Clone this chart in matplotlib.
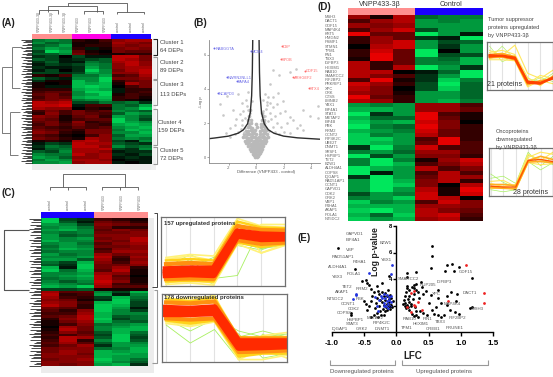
import numpy as np
import matplotlib
matplotlib.use("Agg")
import matplotlib.pyplot as plt
from matplotlib.colors import LinearSegmentedColormap
from matplotlib.patches import Rectangle

plt.rcParams['font.family'] = ['Liberation Sans', 'DejaVu Sans']

W, H = 553, 377

# heatmap values, -9 = bright green, 9 = bright red
heat_a = [
    [-5, -6, -5, 2, 1, 3, 6, 7, 7],
    [-6, -4, -5, 1, 1, 2, 7, 6, 5],
    [-4, -5, -7, 1, 2, 2, 6, 5, 6],
    [-5, -7, -6, 2, -1, 1, 5, 6, 5],
    [-3, -9, -7, 4, 1, 0, 5, 4, 4],
    [-4, -4, -6, 5, 2, 1, 1, 2, 2],
    [-2, -3, 0, -3, -1, -1, 8, 8, 5],
    [-4, -3, -1, -2, -3, -4, 8, 7, 5],
    [-2, -4, -1, -1, -5, -4, 7, 8, 6],
    [-1, -3, -2, -3, -6, -5, 6, 8, 6],
    [-2, -1, -1, -2, -7, -5, 6, 7, 7],
    [-1, -3, 0, -2, -9, -6, 5, 7, 8],
    [-3, -3, -2, -3, -7, -6, 6, 6, 8],
    [2, 1, 3, -5, -5, -7, 3, 4, 7],
    [-4, -2, -1, -6, -6, -9, 5, 5, 6],
    [-2, 1, 1, -8, -6, -9, 2, 4, 5],
    [1, 0, 1, -8, -7, -8, 1, 7, 5],
    [1, -1, -1, -8, -9, -8, 0, 3, 5],
    [2, 2, 2, -7, -8, -7, -1, 2, 2],
    [3, 4, 4, -6, -9, -9, -1, 2, 3],
    [4, 5, 3, -6, -7, -9, 1, 3, 2],
    [3, 5, 4, -7, -8, -8, 2, 3, 1],
    [4, 5, 6, -5, -6, -7, 2, 1, 0],
    [8, 7, 8, -3, -3, -5, -4, -5, -2],
    [8, 8, 9, -1, 3, 3, -5, -4, -7],
    [7, 6, 6, 0, 2, 1, -5, -6, -9],
    [3, 5, 3, 5, 3, 4, -6, -5, -4],
    [2, 6, 3, 5, 4, 3, -4, -7, -6],
    [6, 5, 1, 4, 5, 2, -7, -6, -4],
    [5, 4, 1, 3, 4, 4, -9, -6, -3],
    [4, 5, 2, 6, 2, 3, -9, -7, -6],
    [3, 5, 3, 5, 3, 2, -7, -8, -7],
    [4, 3, 2, 4, 3, 4, -6, -7, -8],
    [5, 4, 3, 2, 5, 5, -5, -8, -7],
    [6, 5, 2, 1, 5, 5, -6, -6, -8],
    [4, 3, 1, 0, 3, 6, -4, -7, -7],
    [5, 4, 2, 1, 7, 6, -5, -6, -5],
    [1, 2, 1, 7, 8, 6, -3, -1, -6],
    [-1, -3, -2, 8, 7, 7, -4, -3, -2],
    [-2, -5, -4, 8, 8, 6, -6, -4, -5],
    [-1, -4, -5, 7, 7, 8, -3, -2, -6],
    [-4, -3, -6, 7, 7, 6, -1, -2, -2],
    [-6, -5, -5, 8, 6, 7, -2, -1, -3],
    [-7, -6, -4, 6, 6, 7, -1, -2, -1],
    [-5, -7, -6, 7, 7, 6, 0, -1, -1],
    [-6, -6, -7, 6, 7, 7, -1, 0, -1],
]

heat_c = [
    [-9, -3, -2, 3, 2, 1],
    [-9, -4, -1, 5, 4, 2],
    [-7, -6, -3, 6, 5, 4],
    [-6, -7, -5, 5, 2, 2],
    [-7, -8, -6, 4, 6, 5],
    [-6, -5, -6, 5, 5, 6],
    [-7, -4, -5, 6, 6, 6],
    [-7, -6, -7, 5, 6, 8],
    [-8, -6, -6, 6, 5, 8],
    [-6, -7, -5, 4, 6, 7],
    [-5, -7, -6, 5, 5, 6],
    [-6, -8, -7, 3, 6, 6],
    [-5, -6, -6, 4, 7, 7],
    [-7, -5, -6, 7, 5, 6],
    [-6, -6, -7, 8, 3, 7],
    [-7, -7, -4, 7, 2, 6],
    [-5, -3, -8, 6, 3, 7],
    [-4, -2, -9, 5, 5, 6],
    [-8, -1, -9, 5, 7, 2],
    [-9, -5, -8, 4, 8, 1],
    [-6, -6, -7, 7, 6, 1],
    [-6, -7, -8, 8, 4, 0],
    [-5, -6, -7, 8, 5, 1],
    [-6, -4, -6, 9, 6, 1],
    [-7, -6, -5, 8, 3, 2],
    [-8, -7, -9, 7, 4, 4],
    [-3, -3, -4, 1, 1, 1],
    [7, 4, 4, -6, -3, -8],
    [8, 2, 3, -7, -1, -6],
    [7, 3, 2, -3, -8, -5],
    [6, 5, 1, -2, -9, -4],
    [7, 6, 3, -8, -9, -3],
    [8, 6, 2, -9, -8, -3],
    [5, 4, 2, -9, -7, -1],
    [4, 2, 6, -9, -6, -3],
    [3, 3, 7, -8, -6, -6],
    [4, 5, 8, -8, -4, -5],
    [2, 6, 8, -9, -3, -5],
    [1, 5, 7, -8, -5, -4],
    [1, 3, 6, -5, -6, -7],
    [0, 7, 5, -6, -7, -8],
    [1, 8, 5, -6, -8, -8],
    [2, 6, 4, -4, -8, -5],
    [3, 3, 5, -3, -9, -4],
    [2, 8, 7, -4, -9, -3],
    [3, 8, 2, -6, -9, -4],
    [4, 7, 4, -4, -7, -6],
    [3, 5, 7, -2, -7, -7],
    [5, 6, 6, -5, -6, -8],
    [5, 7, 6, -8, -7, -8],
    [6, 7, 5, -8, -8, -7],
    [6, 6, 6, -8, -7, -7],
    [5, 6, 7, -9, -7, -5],
    [6, 6, 6, -8, -6, -4],
    [6, 5, 6, -7, -8, -2],
]

heat_d = [
    [6, 1, 7, -4, -5, -5],
    [3, 6, 7, -6, -5, -6],
    [6, 5, 6, -6, -6, -6],
    [3, 6, 8, -3, -6, -6],
    [9, 4, 4, -9, -6, -1],
    [2, 6, 4, -2, -1, -9],
    [2, 6, 8, -6, -3, -4],
    [0, 7, 8, -6, -2, -6],
    [2, 8, 4, -9, 0, -6],
    [2, 9, 4, -9, -3, -3],
    [1, 9, 4, -5, -4, -7],
    [7, 2, 4, -5, -5, -7],
    [7, 2, 7, -9, -6, -2],
    [7, 7, 0, -1, -4, -9],
    [7, 5, 3, -2, -6, -9],
    [3, 9, 1, -2, -8, -5],
    [8, 6, 2, -3, -9, -4],
    [7, 5, 0, -3, -8, -4],
    [6, 5, 1, -6, -6, -4],
    [9, 4, 2, -6, -6, -4],
    [7, 6, 2, -6, -7, -5],
    [-6, -5, -6, 6, 6, 3],
    [-7, -7, -6, 6, 6, 4],
    [-9, -2, -6, 9, 3, 1],
    [-7, -4, -4, 9, 4, 1],
    [-8, -6, -7, 8, 5, 0],
    [-9, -5, -4, 9, 5, 2],
    [-7, -6, -5, 8, 4, 2],
    [-8, -5, -6, 7, 4, 2],
    [-8, -8, -6, 3, 9, 2],
    [-8, -7, -6, 4, 9, 3],
    [-2, -9, -5, 8, 3, 3],
    [-5, -6, -4, 6, 6, 3],
    [-9, -3, -6, 5, 5, 2],
    [-5, -9, -5, 1, 6, 8],
    [-5, -9, -7, 3, 5, 7],
    [-9, -7, -6, 7, 3, 5],
    [-9, -1, -6, 3, 7, 3],
    [-2, -9, -6, 4, 7, 6],
    [-6, -9, -7, 5, 7, 2],
    [-6, -9, -8, 5, 0, 7],
    [-6, -9, -6, 7, 1, 9],
    [-3, -6, -5, 8, 1, 8],
    [-5, -6, -8, 8, 7, 0],
    [-8, -5, -6, 3, 8, 5],
    [-7, -7, -7, 6, 6, 5],
    [-8, -9, -7, 7, 5, 4],
    [-7, -4, -8, 7, 8, 3],
    [-8, -6, -7, 6, 7, 2],
]

genes_d = ["MSH3", "DACT1", "GDF15", "MAP4K4", "KRT5", "HMGN2", "PSMF1", "STMN1", "TPM1", "FN1",
           "TBX3", "IGFBP3", "HEXIM1", "RAB10", "SMARCC2", "IRF2BP2", "PRKRIP1", "XPC", "CRK", "CTSS",
           "LMNB2", "YBX1", "EIF4A1", "STAT3", "METAP2", "EIF4B", "PBK", "RRM2", "CCNT2", "PIP4K2C",
           "UBE2T", "DNMT1", "SRSF1", "HSPBP1", "TET2", "BZW1", "ALDH4A1", "COPS8", "IQGAP1", "RAD51AP1",
           "CCNT1", "GAPVD1", "CDK2", "GRK2", "VBP1", "P4HA1", "AKAP1", "POLA1", "NT5DC2"]

# volcano (B)
grey_core = [
    (-.08, .02), (.05, .03), (.12, .08), (-.15, .1), (0, .1), (-.25, .2), (-.1, .2), (.03, .18), (.18, .2), (.3, .22),
    (-.35, .35), (-.2, .33), (-.05, .3), (.1, .34), (.24, .35), (.38, .33), (-.45, .48), (-.3, .5), (-.15, .47),
    (0, .45), (.15, .5), (.3, .47), (.44, .5), (-.55, .65), (-.4, .62), (-.25, .66), (-.1, .62), (.05, .65), (.2, .62),
    (.35, .66), (.5, .63), (-.7, .8), (-.55, .82), (-.4, .78), (-.25, .82), (-.1, .8), (.05, .82), (.2, .78), (.35, .82),
    (.5, .8), (.65, .82), (-.8, .97), (-.65, 1), (-.5, .95), (-.35, 1), (-.18, .96), (0, 1), (.15, .96), (.3, 1), (.45, .95),
    (.6, 1), (.75, .97), (-.95, 1.15), (-.75, 1.18), (-.55, 1.13), (-.4, 1.2), (-.22, 1.15), (-.05, 1.2), (.1, 1.14),
    (.25, 1.2), (.4, 1.15), (.55, 1.18), (.7, 1.14), (.9, 1.18), (-.85, 1.35), (-.65, 1.33), (-.48, 1.38), (-.32, 1.35),
    (-.12, 1.4), (.03, 1.34), (.3, 1.38), (.48, 1.34), (.65, 1.4), (.82, 1.33), (-.75, 1.55), (-.55, 1.53), (-.4, 1.6),
    (-.28, 1.52), (-.05, 1.6), (.04, 1.75), (.32, 1.55), (.45, 1.6), (.6, 1.52), (.75, 1.58), (-.62, 1.75), (-.42, 1.78),
    (-.3, 1.72), (.35, 1.75), (.5, 1.8), (.68, 1.72), (-.02, 1.95), (-.5, 1.95), (-.38, 2), (.38, 1.95), (.55, 2),
    (-.6, 2.15), (-.4, 2.2), (.42, 2.15), (.6, 2.2), (-.5, 2.4), (.5, 2.4), (.45, 2.6), (-.42, 2.75),
]
grey_outer = [
    (2.47, 5), (2.9, 5.15), (1.26, 5.1), (1.7, 4.8), (1, 4.3), (4.5, 3), (4.48, 2.3), (3.44, 2.75), (3.9, 2.4),
    (1.99, 3.3), (1.6, 3.75), (1.26, 3.55), (.9, 3.55), (.78, 3.25), (1.26, 2.95), (1.75, 2.57), (2.47, 2.38),
    (2.23, 2), (2.96, 1.7), (3.44, 1.6), (2.47, 1.4), (2, 1.5), (.53, 3.35), (.48, 2.7), (1, 2.6), (1.4, 2.4),
    (.9, 2.1), (.7, 2.85), (.65, 2.4), (1.1, 2.25), (1.5, 2), (1.8, 1.75), (1.2, 1.75), (.95, 1.55), (1.35, 1.5),
    (1.7, 1.35), (.8, 3.05), (1.05, 3.2), (1.5, 3.1), (2.1, 2.7), (2.7, 2.2), (3.2, 1.9), (.62, 3.7),
    (-2.4, 2.45), (-1.7, 2.75), (-1.05, 3.15), (-.7, 3.35), (-.55, 2.75), (-1.2, 2.55), (-1.55, 1.9), (-1.9, 1.7),
    (-.8, 2.3), (-.3, 3.3), (-.45, 2.6), (-1.9, 1.2), (-1.3, 1.5), (-1.05, 1.9), (-.8, 1.7), (-.5, 2.1),
    (-1, 2.2), (-1.45, 2.25), (-.95, 2.7), (-.65, 3), (-1.1, 1.65), (-1.5, 1.35), (-2.2, 1.4), (-.9, 1.45),
    (-.6, 3.8), (-2.1, 3.6), (-1.3, 3.7), (-2.6, 3.1),
]
volcano_curve_x = [.22, .25, .3, .4, .6, .9, 1.3, 2, 3, 4.6]
volcano_curve_y = [6.9, 5, 3.6, 2.6, 1.95, 1.6, 1.4, 1.23, 1.13, 1.05]
left_curve_x = [-.24, -.27, -.32, -.42, -.62, -.92, -1.3, -2, -3, -3.42]
left_curve_y = [6.9, 5, 3.6, 2.6, 1.95, 1.6, 1.4, 1.23, 1.12, 1.08]
red_names = ["DSP", "SPOB", "GDF15", "ARHGEF2", "STX4"]
red_x = [1.87, 1.82, 3.56, 2.7, 3.83]
red_y = [6.5, 5.76, 5.08, 4.7, 4.05]
blue_names = ["RABGGTA", "MCM4", "NWRN2NLL1", "PAPA4", "NCAPD3"]
blue_x = [-3.05, -.39, -2.13, -1.4, -2.8]
blue_y = [6.43, 6.25, 4.72, 4.45, 3.78]

# scatter (E)
e_black = [
    (.56, 6.5), (.55, 5.75), (.3, 4.55), (.53, 4.85), (.16, 4.47), (.16, 4.18), (.31, 3.6), (.38, 3.8), (.27, 3.55),
    (.76, 4.63), (.79, 5.05), (.86, 5.13), (.97, 4.87), (.9, 4.63), (1.17, 4.05), (.85, 3), (.94, 2.87), (.78, 2.72),
    (.92, 2.35), (.79, 2.05), (1.15, 1.8), (1.18, 1.88), (.69, 2.17), (.65, 3.17), (.64, 2.55), (.53, 2.8), (.51, 2.17),
    (.61, 1.92), (.59, 1.35), (.64, 1.25), (.7, 1.1), (.74, 1.3), (.84, 1.67), (.91, 1.5), (.97, 1.35), (.42, 1.4),
    (.47, 1.25), (.36, 1.55), (.55, 1.65), (.46, 3.1), (.42, 2.85), (.4, 3.4),
    (.12, 2.4), (.13, 2.2), (.14, 2), (.15, 1.8), (.13, 2.7), (.15, 3.05), (.17, 3.3), (.16, 3.5), (.2, 3.2), (.2, 2.7),
    (.18, 2.5), (.2, 2.25), (.22, 1.95), (.19, 1.65), (.24, 1.35), (.27, 1.2), (.3, 1.3), (.24, 3.4), (.27, 3.3),
    (.28, 2.85), (.3, 3.15), (.33, 3), (.35, 2.55), (.26, 2.5), (.29, 1.85), (.31, 1.6), (.23, 2.1), (.16, 2.05),
    (.11, 2.15), (.18, 1.9), (.33, 1.15),
    (-.9, 6.35), (-.65, 4.72), (-.53, 3.85), (-.47, 3.95), (-.45, 3.72), (-.42, 3.55), (-.4, 3.25), (-.3, 3.45),
    (-.22, 3.7), (-.12, 4.2), (-.71, 1.3), (-.7, 1.45), (-.45, 1.65), (-.42, 1.95), (-.47, 2.1), (-.4, 2.35),
    (-.38, 2.7), (-.35, 3), (-.32, 2.2), (-.33, 1.8), (-.3, 2.55), (-.3, 1.45), (-.28, 3.1), (-.27, 2.85), (-.27, 2),
    (-.26, 1.6), (-.25, 2.45), (-.24, 1.3), (-.22, 3.05), (-.22, 2.3), (-.21, 1.75), (-.2, 2.7), (-.2, 2.05), (-.18, 1.55),
    (-.18, 2.95), (-.17, 2.4), (-.16, 1.85), (-.15, 2.75), (-.15, 2.15), (-.14, 1.65), (-.13, 3.2), (-.12, 2.5), (-.12, 1.95),
    (-.11, 2.3), (-.1, 1.75), (-.1, 2.8), (-.09, 2.05), (-.08, 2.6), (-.07, 1.9), (-.06, 2.35), (-.35, 1.25), (-.4, 1.1),
    (-.28, 1.1), (-.19, 1.25), (-.5, 2.35),
]
e_blue = [
    (-.42, 4.42), (-.07, 5.05), (-.09, 4.35), (-.63, 2.88), (-.62, 2.8), (-.68, 2.5), (-.33, 2.65), (-.27, 2.4),
    (-.24, 2.75), (-.22, 2.55), (-.2, 2.2), (-.19, 2.85), (-.17, 2.6), (-.16, 2), (-.15, 2.35), (-.14, 2.8), (-.13, 1.8),
    (-.13, 2.15), (-.12, 2.65), (-.11, 2.45), (-.1, 2), (-.09, 2.25), (-.08, 2.75), (-.3, 1.95), (-.28, 1.55), (-.2, 1.95),
]
e_red = [
    (1.08, 5.05), (1.36, 2.92), (1.36, 2.22), (.8, 2.35), (.27, 3.1), (.22, 2.97), (.27, 2.05), (.33, 2.25), (.39, 1.67),
    (.17, 1.85), (.22, 1.5), (.29, 1.95),
]
e_labels = ["GAPVD1", "EIF4A1", "VBP", "RAD51AP1", "P4HA1", "ALDH4A1", "POLA1", "YBX3", "TET2", "RRM2", "AKAP1", "PBK",
            "NT5DC2", "CCNT1", "CDK2", "COPS8", "HSPBP1", "STAT3", "IQGAP1", "GRK2", "DNMT1", "PIP4K2C", "METAP2", "BZW1",
            "YBX1", "SMARCC2", "NUP205", "IGFBP3", "XPC", "GDF15", "DACT1", "MAP4K4", "MSH3", "IRF2BP2", "TBX3", "PRUNE1",
            "CREB1", "HEXIM1", "PIN1", "RAB10", "TPM1"]
e_label_x = [163, 158, 151, 130, 180, 113, 160, 113, 140, 186, 127, 180, 105, 144, 162, 133, 165, 155, 120, 185, 248, 245,
             225, 256, 258, 325, 385, 433, 410, 498, 510, 458, 533, 473, 421, 463, 398, 363, 382, 328, 321]
e_label_y = [28, 46, 75, 95, 112, 125, 146, 156, 185, 192, 200, 222, 222, 238, 253, 265, 285, 298, 312, 312, 312, 295,
             280, 55, 105, 163, 180, 170, 207, 142, 205, 238, 252, 280, 290, 309, 312, 298, 283, 282, 308]

# profile plots
up_green = [[-.9, -.25, -.9, -.8, .85, .6], [-.55, -.1, -.45, .35, .1, .2], [-1.1, -.7, -1.1, .3, .1, .3], [-.4, -.5, -.2, .2, .05, .35]]
up_pale = [[-.2, -.1, -.15, 1.1, .85, .8], [-1.1, -1.05, -1.12, .25, -.05, .2], [-.25, -.15, -.3, .2, .9, .9], [-1.05, -.95, -1.05, 1, -.05, .25]]
up_yellow = [[-.3, -.25, -.3, 1, .8, .78], [-1, -.98, -1, .3, .15, .25], [-.4, -.35, -.4, .9, .25, .3], [-.95, -.9, -.95, .45, .75, .7]]
up_orange = [[-.42, -.38, -.42, .85, .72, .7], [-.92, -.9, -.92, .38, .25, .3]]
up_red = [[-.7, -.65, -.68, .62, .5, .5], [-.6, -.57, -.58, .66, .56, .54], [-.78, -.75, -.78, .54, .42, .44]]
down_green = [[.3, -.1, .3, -.2, -1, -.85], [.4, .05, .35, -.1, -.3, -.2], [.1, -.5, -.05, -1.05, -.2, -.75], [.25, .3, .35, -.3, -.1, -.3]]
down_pale = [[1.05, .8, 1.1, -.6, -.25, -.15], [.15, .05, .2, -1.05, -1.05, -.9], [.95, 1, 1.05, -.3, -.3, -.45], [.2, .1, .25, -1.05, -.7, -1]]
down_yellow = [[.95, .9, 1, -.4, -.3, -.3], [.25, .15, .25, -.95, -.85, -.85], [.85, .8, .9, -.9, -.8, -.75], [.3, .2, .3, -.3, -.35, -.35]]
down_orange = [[.85, .82, .88, -.35, -.35, -.35], [.32, .28, .32, -.8, -.78, -.75]]
down_red = [[.57, .55, .6, -.55, -.55, -.52], [.66, .63, .68, -.45, -.45, -.45], [.47, .47, .5, -.65, -.63, -.6]]
sup_green = [[.95, .2, .5, -.6, -.75, -.35], [.35, .95, .3, -.85, -.55, -.75]]
sup_yellow = [[.75, .5, 1, -.35, -.6, -.2], [.3, .3, .25, -1, -.7, -.85], [.65, .75, .55, -.55, -.95, -.45], [.35, .55, .35, -.85, -.45, -.6]]
sup_orange = [[.55, .6, .45, -.72, -.85, -.5], [.4, .42, .3, -.9, -.7, -.6]]
sup_red = [[.45, .5, .4, -.8, -.85, -.55], [.52, .48, .35, -.75, -.8, -.6]]
onc_green = [[-.1, -.5, -.75, .8, .6, .35], [-.85, -.95, -.85, .5, .1, .45], [-.3, -.2, -.55, .95, .3, .75]]
onc_yellow = [[-.45, -.4, -.7, .7, .95, .85], [-.8, -.75, -.85, .45, .35, .4], [-.55, -.7, -.6, .85, .55, .95]]
onc_orange = [[-.6, -.6, -.65, .55, .75, .6], [-.75, -.78, -.8, .48, .5, .45]]
onc_red = [[-.68, -.72, -.72, .55, .6, .5]]

left_group = [("#ff8f8f", 32, 72), ("#ff00e6", 72, 111), ("#1a00ff", 111, 151)]
cluster_names = ["Cluster 1", "Cluster 2", "Cluster 3", "Cluster 4", "Cluster 5"]
cluster_counts = ["64 DEPs", "89 DEPs", "113 DEPs", "159 DEPs", "72 DEPs"]

cmap = LinearSegmentedColormap.from_list("rg", ["#00ff66", "#000000", "#ff0000"])
fig = plt.figure(figsize=(W / 100, H / 100), dpi=100)


def box(x0, y0, x1, y1, **kw):
    return fig.add_axes([x0 / W, 1 - y1 / H, (x1 - x0) / W, (y1 - y0) / H], **kw)


def heat(rows, x0, y0, x1, y1, vmax):
    ax = box(x0, y0, x1, y1, zorder=2)
    ax.imshow(np.array(rows), cmap=cmap, vmin=-vmax, vmax=vmax, aspect='auto', interpolation='nearest')
    ax.axis('off')


def profile(x0, y0, x1, y1, xlim, ylim, groups):
    ax = box(x0, y0, x1, y1, zorder=2)
    for i in range(6):
        ax.axvline(i, color='#e2e2e2', lw=0.8)
    for lines, col, lw in groups:
        for vals in lines:
            ax.plot(range(6), vals, color=col, lw=lw, solid_joinstyle='round')
    ax.set_xlim(*xlim)
    ax.set_ylim(*ylim)
    ax.set_xticks([])
    ax.set_yticks([])
    for s in ax.spines.values():
        s.set_color('#707070')
        s.set_linewidth(0.9)


# background shades
bg = box(0, 0, W, H, zorder=0)
bg.set_xlim(0, W)
bg.set_ylim(H, 0)
bg.axis('off')
bg.add_patch(Rectangle((32, 164), 124, 6, color='#ececec', lw=0))
bg.add_patch(Rectangle((151, 39), 5, 131, color='#f0f0f0', lw=0))
bg.add_patch(Rectangle((41, 366), 113, 7, color='#ececec', lw=0))
bg.add_patch(Rectangle((148, 218), 6, 155, color='#ececec', lw=0))

heat(heat_a, 32, 39, 151, 164, 11)
heat(heat_c, 41, 218, 148, 366, 11.5)
heat(heat_d, 348, 15, 483, 221, 10)

# volcano
axb = box(209, 40, 320, 163, zorder=2)
core = np.array(grey_core)
outer = np.array(grey_outer)
axb.scatter(core[:, 0], core[:, 1], s=7, color='#b9b9b9', linewidths=0)
axb.scatter(outer[:, 0], outer[:, 1], s=3.5, color='#c8c8c8', linewidths=0)
axb.plot(volcano_curve_x, volcano_curve_y, color='#2e2e2e', lw=1)
axb.plot(left_curve_x, left_curve_y, color='#2e2e2e', lw=1)
axb.scatter(red_x, red_y, s=2, color='#ff6a6a', linewidths=0)
axb.scatter(blue_x, blue_y, s=2, color='#6a6ae8', linewidths=0)
for n, x, y in zip(red_names, red_x, red_y):
    axb.text(x + .08, y - .05, n, color='#ff6a6a', fontsize=2.8, va='center')
for n, x, y in zip(blue_names, blue_x, blue_y):
    axb.text(x + .08, y - .05, n, color='#6a6ae8', fontsize=2.8, va='center')
axb.set_xlim(-3.42, 4.65)
axb.set_ylim(-.35, 6.88)
axb.set_xticks([-2, 0, 2, 4])
axb.set_xticklabels(["-2", "0", "2", "4"])
axb.set_yticks([0, 2, 4, 6])
axb.tick_params(labelsize=2.8, length=1.2, width=.4, pad=1, colors='#666666')
axb.spines['top'].set_visible(False)
axb.spines['right'].set_visible(False)
axb.spines['left'].set_color('#888888')
axb.spines['bottom'].set_color('#888888')
axb.spines['left'].set_linewidth(.6)
axb.spines['bottom'].set_linewidth(.6)
axb.patch.set_alpha(0)

# scatter E
axe = box(332, 226, 493, 332, zorder=2)
for pts, col in [(e_black, 'black'), (e_blue, '#2233dd'), (e_red, '#ee2222')]:
    p = np.array(pts)
    axe.scatter(p[:, 0], p[:, 1], s=4, color=col, linewidths=0, clip_on=False)
axe.set_xlim(-1, 1.5)
axe.set_ylim(0, 8)
# set_position resets the ticks, so it has to come before the tick labels
axe.spines['left'].set_position(('data', 0))
axe.set_xticks([-1, -.5, 0, .5, 1, 1.5])
axe.set_xticklabels(["-1.0", "-0.5", "0.0", "0.5", "1.0", "1.5"], fontweight='bold', fontsize=5.8)
axe.set_yticks([2, 4, 6, 8])
axe.set_yticklabels(["2", "4", "6", "8"], fontweight='bold', fontsize=4.2)
axe.tick_params(axis='x', length=3, width=1, pad=3)
axe.tick_params(axis='y', length=2.5, width=1, pad=.5)
axe.spines['top'].set_visible(False)
axe.spines['right'].set_visible(False)
axe.spines['left'].set_linewidth(1)
axe.spines['bottom'].set_linewidth(1)
axe.patch.set_alpha(0)

# profile panels
profile(161, 217, 285, 286, (-.21, 5), (-1.15, 1.15),
        [(up_green, '#a8f060', .6), (up_pale, '#fff27a', 1.2), (up_yellow, '#ffd21a', 1.8), (up_orange, '#ff9010', 3), (up_red, '#ff2a00', 4.8)])
profile(162, 294, 287, 362, (-.17, 5), (-1.13, 1.13),
        [(down_green, '#a8f060', .6), (down_pale, '#fff27a', 1.2), (down_yellow, '#ffd21a', 1.8), (down_orange, '#ff9010', 3), (down_red, '#ff2a00', 4.8)])
profile(487, 42, 553, 90, (-.2, 5), (-1.15, 1.15),
        [(sup_green, '#b8f070', .5), (sup_yellow, '#ffe860', .8), (sup_orange, '#ffae20', 1.2), (sup_red, '#ff4400', 1.6)])
profile(489, 148, 553, 196, (-.15, 5), (-1.15, 1.15),
        [(onc_green, '#a8f060', .5), (onc_yellow, '#ffe860', .8), (onc_orange, '#ffae20', 1.2), (onc_red, '#ff5500', 1)])

# overlay for text, colour bars, brackets, dendrograms
ov = box(0, 0, W, H, zorder=5)
ov.set_xlim(0, W)
ov.set_ylim(H, 0)
ov.axis('off')
ov.patch.set_alpha(0)


def seg(points, col='#555555', lw=.6):
    xs, ys = zip(*points)
    ov.plot(xs, ys, color=col, lw=lw, solid_capstyle='butt')


def bar(col, x0, x1, y0, y1):
    ov.add_patch(Rectangle((x0, y0), x1 - x0, y1 - y0, color=col, lw=0))


for col, x0, x1 in left_group:
    bar(col, x0, x1, 34, 39)
bar('#1a00ff', 41, 94, 212, 218)
bar('#ff8f8f', 94, 148, 212, 218)
bar('#ff8f8f', 348, 415, 8, 15)
bar('#1a00ff', 415, 483, 8, 15)

# panel letters
for t, x, y in [("(A)", 1, 23), ("(B)", 193, 23), ("(C)", 1, 193), ("(D)", 318, 7), ("(E)", 298, 238)]:
    ov.text(x, y, t, fontsize=7, fontweight='bold', va='center', color='#222222')

# A column labels and tree
for i, t in enumerate(["VNPP433-3β"] * 3 + ["VNPP433"] * 3 + ["control"] * 3):
    ov.text(38.5 + i * 13.2, 32, t, rotation=90, fontsize=2.6, color='#666666', ha='center', va='bottom')
seg([(48, 12), (48, 6), (97, 6), (97, 12)])
seg([(68, 6), (68, 3), (127, 3), (127, 12)])
seg([(117, 14), (117, 12), (144, 12), (144, 14)])
seg([(39, 14), (39, 10), (58, 10), (58, 14)])
seg([(84, 14), (84, 11), (103, 11), (103, 14)])
seg([(2, 67), (2, 133), (10, 133)], '#666666')
seg([(2, 67), (12, 67)], '#666666')
seg([(12, 47), (12, 88), (20, 88)], '#666666')
seg([(12, 47), (22, 47)], '#666666')
seg([(10, 112), (10, 155), (18, 155)], '#666666')
seg([(10, 112), (20, 112)], '#666666')
for i, y in enumerate(np.arange(39.5, 164, 1.45)):
    ov.plot([[21, 25, 23, 27, 22, 26][i % 6], 32], [y, y], color='black', lw=.5, solid_capstyle='butt')

# A brackets
spans_a = [(39, 55), (57, 79), (80, 105), (109, 145), (147, 164)]
text_a = [(160, 43, 51), (160, 62, 70), (160, 85, 94), (158.5, 122, 130), (160, 151, 159)]
for k, (y0, y1) in enumerate(spans_a):
    c = '#222222' if k == 0 else '#999999'
    seg([(153, y0), (157, y0), (157, y1), (153, y1)], c, .8)
    tx, ty0, ty1 = text_a[k]
    ov.text(tx, ty0, cluster_names[k], fontsize=4.2, va='center', color='#444444')
    ov.text(tx, ty1, cluster_counts[k], fontsize=4.2, va='center', color='#444444')

# B axis titles
ov.text(266, 172, "Difference (VNPP433 - control)", fontsize=3.1, color='#555555', ha='center', va='center')
ov.text(201, 102, "-Log p", fontsize=3, color='#555555', rotation=90, ha='center', va='center')

# C labels and tree
for i, t in enumerate(["control"] * 3 + ["VNPP433"] * 3):
    ov.text(50 + i * 17.9, 210, t, rotation=90, fontsize=2.6, color='#666666', ha='center', va='bottom')
seg([(63, 187), (63, 174), (125, 174), (125, 187)])
seg([(50, 190), (50, 187), (86, 187), (86, 190)])
seg([(102, 190), (102, 187), (138, 187), (138, 190)])
seg([(68, 187), (68, 190)])
seg([(120, 187), (120, 190)])
seg([(29, 230), (4, 230), (4, 290), (29, 290)], '#555555', .8)
for i, y in enumerate(np.arange(218.5, 366, 1.5)):
    if i % 7 != 3:
        ov.plot([[29, 33, 31, 35, 30, 36, 34][i % 7], 41], [y, y], color='black', lw=.5, solid_capstyle='butt')
seg([(154, 213), (156.5, 213), (156.5, 287), (152, 287)], '#444444', .7)
seg([(154, 290), (156.5, 290), (156.5, 363), (152, 363)], '#999999', .8)
ov.text(164, 224, "157 upregulated proteins", fontsize=4.3, fontweight='bold', color='#333333', va='center')
ov.text(164, 298, "178 downregulated proteins", fontsize=4.3, fontweight='bold', color='#333333', va='center')

# D text
ov.text(380, 4.5, "VNPP433-3β", fontsize=5, ha='center', va='center', color='#333333')
ov.text(451, 4.5, "Control", fontsize=5, ha='center', va='center', color='#333333')
for i, g in enumerate(genes_d):
    ov.text(325, 15 + (i + .5) * 206 / 49, g, fontsize=2.9, color='#666666', va='center')
for t, y in [("Tumor suppressor", 20), ("proteins upregulated", 28), ("by VNPP433-3β", 36)]:
    ov.text(488, y, t, fontsize=4.1, color='#444444', va='center')
for t, y in [("Oncoproteins", 131), ("downregulated", 139), ("by VNPP433-3β", 148)]:
    ov.text(496, y, t, fontsize=4.1, color='#444444', va='center')
ov.text(487, 85, "21 proteins", fontsize=5, color='#333333', va='center')
ov.text(531, 193, "28 proteins", fontsize=5, color='#333333', ha='center', va='center')

# E text
for t, x, y in zip(e_labels, e_label_x, e_label_y):
    ov.text(300 + x / 3, 225 + y / 3, t, fontsize=3.2, color='#555555', ha='center', va='center')
ov.text(375, 252, "Log p-value", fontsize=6.2, fontweight='bold', rotation=90, ha='center', va='center', color='#222222')
ov.text(413, 356, "LFC", fontsize=7, fontweight='bold', ha='center', va='center', color='#222222')
seg([(329.5, 360), (329.5, 364.5), (395, 364.5), (395, 360)], '#999999', .8)
seg([(401.5, 360), (401.5, 364.5), (488, 364.5), (488, 360)], '#999999', .8)
ov.text(362, 371.5, "Downregulated proteins", fontsize=4.3, ha='center', va='center', color='#555555')
ov.text(444.5, 371.5, "Upregulated proteins", fontsize=4.3, ha='center', va='center', color='#555555')

fig.savefig("out.png", dpi=100)
